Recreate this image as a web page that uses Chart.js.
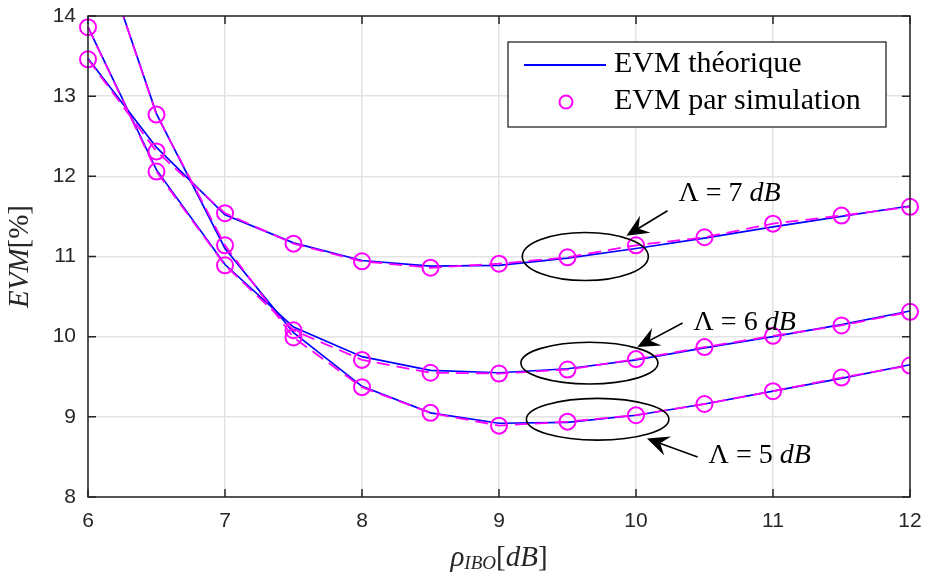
<!DOCTYPE html>
<html>
<head>
<meta charset="utf-8">
<script src="https://cdn.jsdelivr.net/npm/chart.js@4/dist/chart.umd.min.js"></script>
<style>
  html, body { margin: 0; padding: 0; background: #fff; }
  #wrap { width: 926px; height: 574px; }
</style>
</head>
<body>
<div id="wrap"><canvas id="myChart" width="926" height="574"></canvas></div>
<script>
// x values (rho_IBO in dB)
const ibo = [6, 6.5, 7, 7.5, 8, 8.5, 9, 9.5, 10, 10.5, 11, 11.5, 12];

// EVM theorique (%)
const theoL5 = [15.3, 12.78, 11.10, 10.05, 9.38, 9.05, 8.92, 8.93, 9.02, 9.16, 9.32, 9.48, 9.65];
const theoL6 = [13.86, 12.08, 10.90, 10.12, 9.75, 9.58, 9.55, 9.60, 9.71, 9.86, 10.00, 10.15, 10.32];
const theoL7 = [13.47, 12.36, 11.52, 11.17, 10.95, 10.88, 10.89, 10.98, 11.10, 11.23, 11.37, 11.50, 11.63];

// EVM par simulation (%)
const simL5 = [15.3, 12.77, 11.14, 9.99, 9.37, 9.05, 8.89, 8.94, 9.02, 9.16, 9.32, 9.49, 9.64];
const simL6 = [13.86, 12.06, 10.89, 10.08, 9.71, 9.55, 9.54, 9.59, 9.72, 9.87, 10.01, 10.14, 10.31];
const simL7 = [13.46, 12.31, 11.54, 11.16, 10.94, 10.86, 10.91, 10.99, 11.14, 11.24, 11.41, 11.51, 11.62];

const xTicks = [6, 7, 8, 9, 10, 11, 12];
const yTicks = [8, 9, 10, 11, 12, 13, 14];
const legendLabels = ['EVM théorique', 'EVM par simulation'];

// annotations, in data units: ellipse centre/radii, text anchor, arrow tail (a) and tip (b)
const notes = [
    { lam: '7', ex: 9.63, ey: 11.0, rx: 0.46, ry: 0.30, tx: 10.31, ty: 11.78, ax: 10.23, ay: 11.57, bx: 9.93, by: 11.26 },
    { lam: '6', ex: 9.66, ey: 9.67, rx: 0.50, ry: 0.26, tx: 10.42, ty: 10.18, ax: 10.34, ay: 10.17, bx: 10.01, by: 9.87 },
    { lam: '5', ex: 9.72, ey: 8.97, rx: 0.52, ry: 0.26, tx: 10.53, ty: 8.52, ax: 10.45, ay: 8.50, bx: 10.08, by: 8.73 }
];

function pts(arr) {
    return arr.map(function (v, i) { return { x: ibo[i], y: v }; });
}

function theo(arr, clip) {
    return {
        data: pts(arr),
        borderColor: '#0000ff',
        borderWidth: 1.7,
        pointRadius: 0,
        tension: 0,
        clip: clip,
        order: 2
    };
}

function sim(arr, clip) {
    return {
        data: pts(arr),
        borderColor: '#ff00ff',
        borderWidth: 1.8,
        borderDash: [13, 7],
        pointRadius: 8,
        pointHoverRadius: 8,
        pointBorderWidth: 2,
        pointBorderColor: '#ff00ff',
        pointBackgroundColor: 'rgba(0,0,0,0)',
        tension: 0,
        clip: clip,
        order: 1
    };
}

function arrowHead(ctx, x0, y0, x1, y1) {
    var a = Math.atan2(y1 - y0, x1 - x0);
    var len = 22, hw = 10, notch = 14;
    ctx.save();
    ctx.translate(x1, y1);
    ctx.rotate(a);
    ctx.beginPath();
    ctx.moveTo(0, 0);
    ctx.lineTo(-len, -hw);
    ctx.lineTo(-notch, 0);
    ctx.lineTo(-len, hw);
    ctx.closePath();
    ctx.fill();
    ctx.restore();
}

// draws text pieces one after another: [text, font, dy]
function runs(ctx, parts, x, y) {
    parts.forEach(function (p) {
        ctx.font = p[1];
        ctx.fillText(p[0], x, y + (p[2] || 0));
        x += ctx.measureText(p[0]).width;
    });
}
function runsWidth(ctx, parts) {
    var w = 0;
    parts.forEach(function (p) { ctx.font = p[1]; w += ctx.measureText(p[0]).width; });
    return w;
}

const SERIF = '"Liberation Serif", "Times New Roman", serif';

const matlabLook = {
    id: 'matlabLook',
    afterDatasetsDraw: function (chart) {
        var ctx = chart.ctx;
        var xs = chart.scales.x, ys = chart.scales.y;
        var a = chart.chartArea;
        ctx.save();

        // box with inward ticks
        ctx.strokeStyle = '#262626';
        ctx.lineWidth = 1.5;
        ctx.strokeRect(a.left, a.top, a.right - a.left, a.bottom - a.top);
        ctx.beginPath();
        xTicks.forEach(function (t) {
            var px = xs.getPixelForValue(t);
            ctx.moveTo(px, a.bottom); ctx.lineTo(px, a.bottom - 8);
            ctx.moveTo(px, a.top); ctx.lineTo(px, a.top + 8);
        });
        yTicks.forEach(function (t) {
            var py = ys.getPixelForValue(t);
            ctx.moveTo(a.left, py); ctx.lineTo(a.left + 8, py);
            ctx.moveTo(a.right, py); ctx.lineTo(a.right - 8, py);
        });
        ctx.stroke();

        // ellipses, arrows and labels
        ctx.strokeStyle = '#000';
        ctx.fillStyle = '#000';
        ctx.lineWidth = 1.6;
        ctx.textBaseline = 'middle';
        ctx.textAlign = 'left';
        notes.forEach(function (n) {
            var cx = xs.getPixelForValue(n.ex), cy = ys.getPixelForValue(n.ey);
            var rx = Math.abs(xs.getPixelForValue(n.ex + n.rx) - cx);
            var ry = Math.abs(ys.getPixelForValue(n.ey + n.ry) - cy);
            ctx.beginPath();
            ctx.ellipse(cx, cy, rx, ry, 0, 0, Math.PI * 2);
            ctx.stroke();

            var x0 = xs.getPixelForValue(n.ax), y0 = ys.getPixelForValue(n.ay);
            var x1 = xs.getPixelForValue(n.bx), y1 = ys.getPixelForValue(n.by);
            ctx.beginPath();
            ctx.moveTo(x0, y0);
            ctx.lineTo(x1 - 10 * Math.cos(Math.atan2(y1 - y0, x1 - x0)), y1 - 10 * Math.sin(Math.atan2(y1 - y0, x1 - x0)));
            ctx.stroke();
            arrowHead(ctx, x0, y0, x1, y1);

            var tx = xs.getPixelForValue(n.tx), ty = ys.getPixelForValue(n.ty);
            runs(ctx, [
                ['Λ', '28px ' + SERIF],
                [' = ', '28px ' + SERIF],
                [n.lam + ' ', '28px ' + SERIF],
                ['dB', 'italic 28px ' + SERIF]
            ], tx, ty);
        });

        // legend
        var lx = 508, ly = 42, lw = 378, lh = 85;
        ctx.fillStyle = '#fff';
        ctx.fillRect(lx, ly, lw, lh);
        ctx.strokeStyle = '#262626';
        ctx.lineWidth = 1.3;
        ctx.strokeRect(lx, ly, lw, lh);
        ctx.strokeStyle = '#0000ff';
        ctx.lineWidth = 1.8;
        ctx.beginPath();
        ctx.moveTo(524, 65); ctx.lineTo(606, 65);
        ctx.stroke();
        ctx.strokeStyle = '#ff00ff';
        ctx.lineWidth = 2;
        ctx.beginPath();
        ctx.arc(566, 102, 6.5, 0, Math.PI * 2);
        ctx.stroke();
        ctx.fillStyle = '#000';
        ctx.font = '30px ' + SERIF;
        ctx.fillText(legendLabels[0], 614, 64);
        ctx.fillText(legendLabels[1], 614, 101);

        // axis titles
        ctx.fillStyle = '#262626';
        var xParts = [
            ['ρ', 'italic 29px ' + SERIF, 0],
            ['IBO', 'italic 19px ' + SERIF, 6],
            ['[', '29px ' + SERIF, 0],
            ['dB', 'italic 29px ' + SERIF, 0],
            [']', '29px ' + SERIF, 0]
        ];
        var xc = (a.left + a.right) / 2;
        runs(ctx, xParts, xc - runsWidth(ctx, xParts) / 2, 558);

        var yParts = [
            ['EVM', 'italic 29px ' + SERIF, 0],
            ['[%]', '29px ' + SERIF, 0]
        ];
        ctx.save();
        ctx.translate(20, (a.top + a.bottom) / 2);
        ctx.rotate(-Math.PI / 2);
        runs(ctx, yParts, -runsWidth(ctx, yParts) / 2, 0);
        ctx.restore();

        ctx.restore();
    }
};

var ctx = document.getElementById('myChart').getContext('2d');
var myChart = new Chart(ctx, {
    type: 'line',
    data: {
        datasets: [
            theo(theoL7, 10), theo(theoL6, 10), theo(theoL5, 0),
            sim(simL7, 10), sim(simL6, 10), sim(simL5, 0)
        ]
    },
    options: {
        responsive: false,
        animation: false,
        events: [],
        layout: { padding: { top: 16, right: 16, left: 0, bottom: 0 } },
        plugins: {
            legend: { display: false },
            tooltip: { enabled: false }
        },
        scales: {
            x: {
                type: 'linear',
                min: 6,
                max: 12,
                afterFit: function (s) { s.height = 77; s.paddingLeft = 0; s.paddingRight = 0; },
                afterBuildTicks: function (s) { s.ticks = xTicks.map(function (v) { return { value: v }; }); },
                grid: { color: '#e3e3e3', lineWidth: 1.5, drawTicks: false },
                border: { display: false },
                ticks: {
                    padding: 12,
                    color: '#262626',
                    font: { family: '"Liberation Sans", Arial, sans-serif', size: 21 }
                }
            },
            y: {
                type: 'linear',
                min: 8,
                max: 14,
                afterFit: function (s) { s.width = 88; s.paddingTop = 0; s.paddingBottom = 0; },
                afterBuildTicks: function (s) { s.ticks = yTicks.map(function (v) { return { value: v }; }); },
                grid: { color: '#e3e3e3', lineWidth: 1.5, drawTicks: false },
                border: { display: false },
                ticks: {
                    padding: 12,
                    color: '#262626',
                    font: { family: '"Liberation Sans", Arial, sans-serif', size: 21 }
                }
            }
        }
    },
    plugins: [matlabLook]
});
</script>
</body>
</html>
